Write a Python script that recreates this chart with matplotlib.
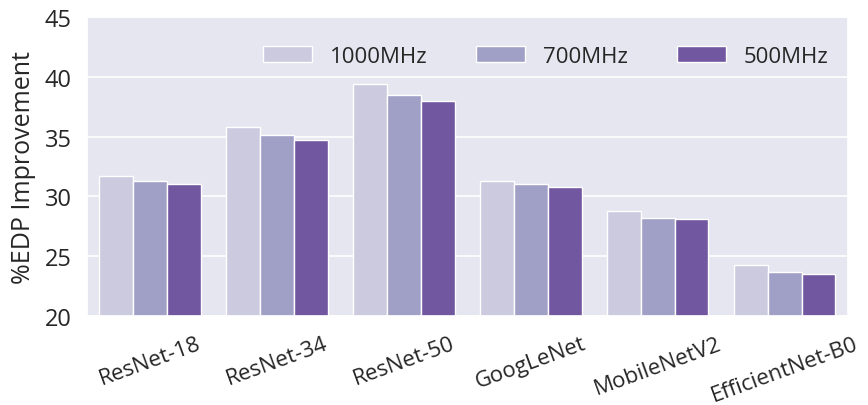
import matplotlib
matplotlib.use("Agg")
import matplotlib.pyplot as plt
import numpy as np
import seaborn as sns

models = ["ResNet-18", "ResNet-34", "ResNet-50", "GoogLeNet", "MobileNetV2", "EfficientNet-B0"]
freqs = ["1000MHz", "700MHz", "500MHz"]
edp_1000 = [31.7, 35.8, 39.4, 31.3, 28.8, 24.3]
edp_700 = [31.25, 35.1, 38.45, 31.0, 28.2, 23.7]
edp_500 = [31.0, 34.7, 38.0, 30.75, 28.1, 23.5]
colors = ["#cccadf", "#a09fc6", "#7156a0"]

sns.set_theme(style="darkgrid")
plt.rcParams['font.family'] = ['Open Sans', 'DejaVu Sans']

fig = plt.figure(figsize=(8.68, 4.06), dpi=100)
ax = fig.add_axes([0.100, 0.219, 0.877, 0.737])
ax.set_facecolor("#e6e6f0")

x = np.arange(len(models))
w = 0.8 / 3
series = [edp_1000, edp_700, edp_500]
for i, (vals, lab, c) in enumerate(zip(series, freqs, colors)):
    ax.bar(x + (i - 1) * w, vals, width=w, color=c, label=lab,
           edgecolor="white", linewidth=1.0)

ax.set_ylim(20, 45)
ax.set_xlim(-0.5, len(models) - 0.5)
ax.set_yticks([20, 25, 30, 35, 40, 45])
ax.set_xticks(x)
ax.set_xticklabels(models, rotation=20, ha="center", fontsize=16, color="#262626")
ax.tick_params(axis="y", labelsize=17, labelcolor="#262626", pad=5)
ax.tick_params(axis="x", pad=6)
ax.grid(axis="x", visible=False)
ax.grid(axis="y", color="white", linewidth=1.2)
ax.set_ylabel("%EDP Improvement", fontsize=18, color="#262626", labelpad=6)
ax.legend(ncol=3, loc="upper right", frameon=False, fontsize=16,
          bbox_to_anchor=(1.0, 0.97), columnspacing=2.2, handlelength=2.2)

fig.savefig("out.png", dpi=100)
